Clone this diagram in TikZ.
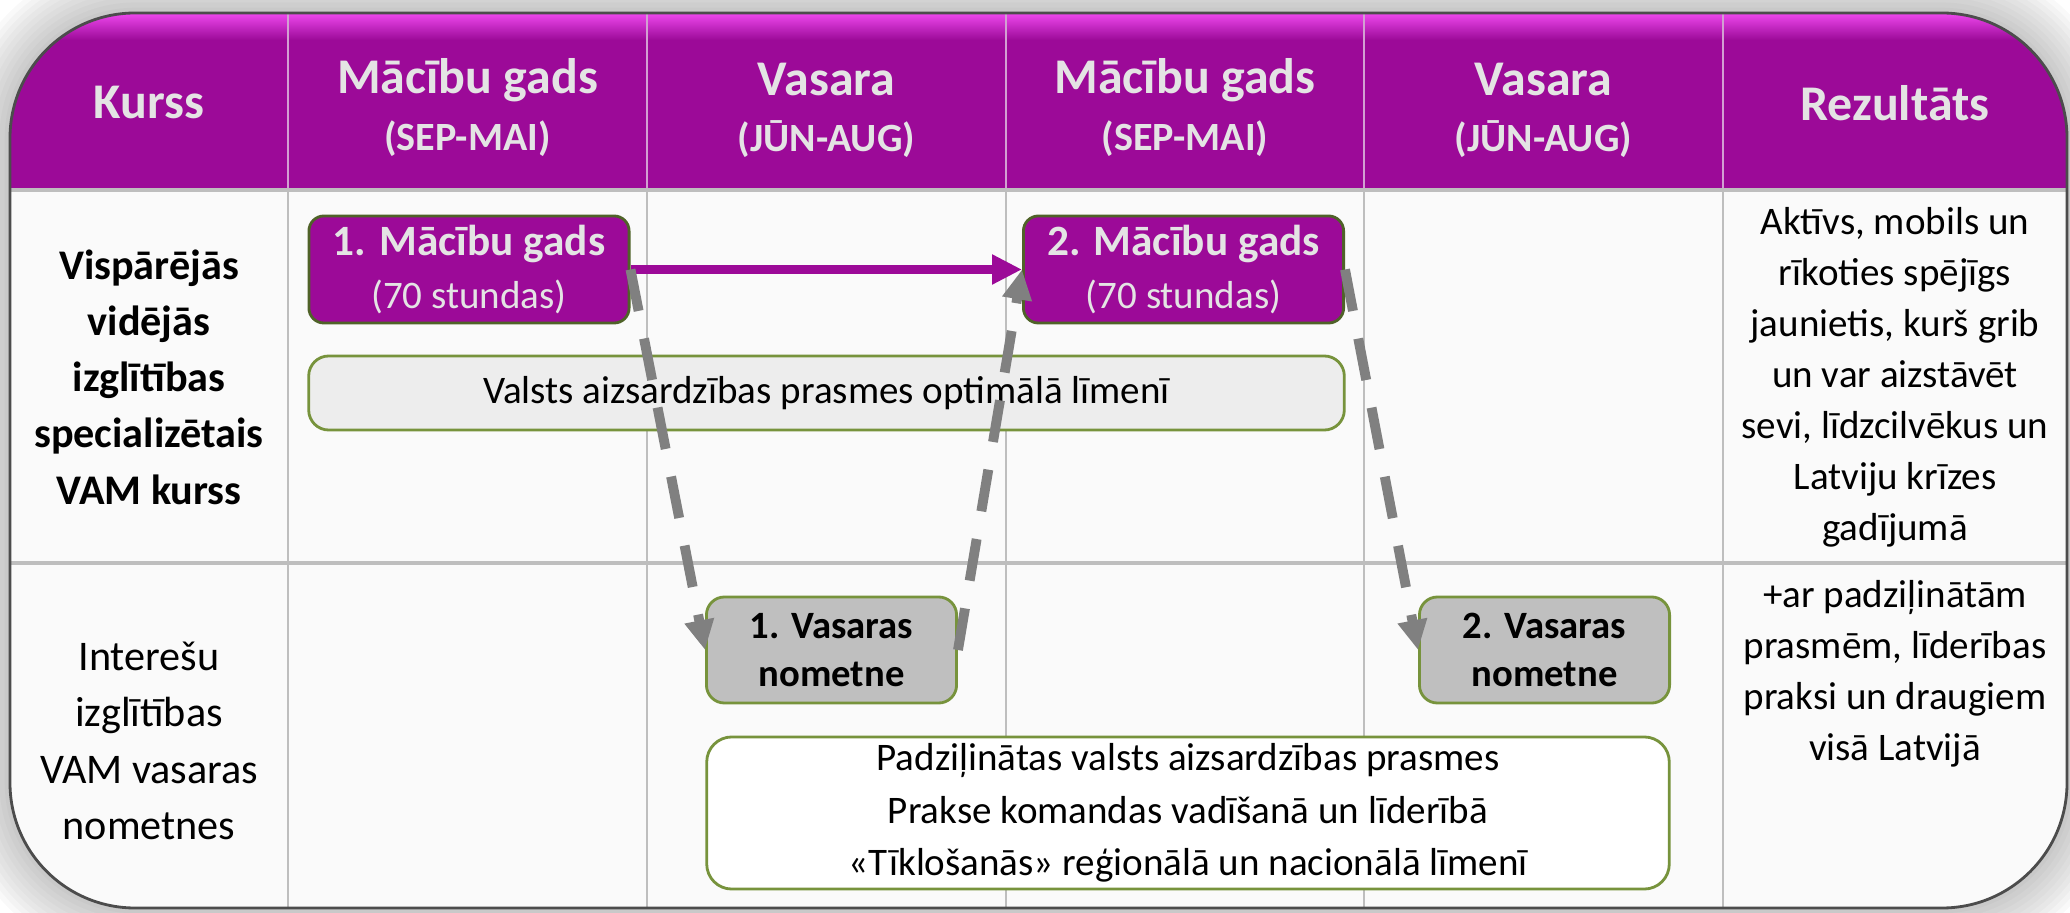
\documentclass[tikz,border=0pt]{standalone}
\usepackage{fontspec}
\setmainfont{Carlito}
\usetikzlibrary{positioning,arrows.meta}

\definecolor{vampurple}{RGB}{156,10,152}
\definecolor{vamtop}{RGB}{238,72,238}
\definecolor{vamhead}{RGB}{228,228,228}
\definecolor{vamolive}{RGB}{79,98,40}
\definecolor{vamgreen}{RGB}{119,147,60}
\definecolor{vamgrid}{RGB}{190,190,190}
\definecolor{vamsep}{RGB}{210,160,210}
\definecolor{vambody}{RGB}{250,250,250}
\definecolor{vamlight}{RGB}{237,237,237}
\definecolor{vamcamp}{RGB}{191,191,191}
\definecolor{vamgray}{RGB}{128,128,128}

\begin{document}
\begin{tikzpicture}[x=0.01cm, y=-0.01cm,
    hd/.style={text=vamhead, font=\fontsize{14.2}{17}\selectfont\bfseries},
    hdsub/.style={text=vamhead, font=\fontsize{11.4}{14}\selectfont\bfseries},
    rowlabel/.style={align=center, font=\fontsize{12}{16}\selectfont},
    txt/.style={align=center, inner sep=0pt, font=\fontsize{11.1}{14.5}\selectfont},
    yearbox/.style={draw=vamolive, fill=vampurple, text=vamhead, line width=0.8pt, rounded corners=0.15cm,
      align=center, inner sep=0pt, minimum width=3.2cm, minimum height=1.07cm, font=\fontsize{11.1}{15}\selectfont},
    campbox/.style={draw=vamgreen, fill=vamcamp, line width=0.8pt, rounded corners=0.18cm,
      align=center, inner sep=0pt, minimum width=2.5cm, minimum height=1.06cm, font=\fontsize{11}{13.6}\selectfont\bfseries},
    skillbox/.style={draw=vamgreen, line width=0.8pt, rounded corners=0.2cm, txt},
    flow/.style={vampurple, line width=2.3pt, -{Triangle[length=8.5pt,width=8pt]}},
    jump/.style={vamgray, line width=2.8pt, dash pattern=on 12pt off 8pt, -{Triangle[length=8.5pt,width=8pt]}}]
  \useasboundingbox (0,0) rectangle (2070,913);

  \foreach \w in {3,6,...,30}
    \draw[black, opacity=0.025, line width=\w pt, rounded corners=1.25cm] (10,13) rectangle (2067,908);
  \begin{scope}
    \clip[rounded corners=1.25cm] (10,13) rectangle (2067,908);
    \fill[vambody] (10,13) rectangle (2067,908);
    \fill[vampurple] (10,13) rectangle (2067,188);
    \shade[top color=vamtop, bottom color=vampurple] (10,13) rectangle (2067,40);
    \foreach \x in {288,647,1006,1364,1723} {
      \draw[vamsep, line width=0.6pt] (\x,13) -- (\x,188);
      \draw[vamgrid, line width=0.8pt] (\x,188) -- (\x,908);
    }
    \draw[vamgrid, line width=1.2pt] (10,190) -- (2067,190)
                                     (10,563) -- (2067,563);
  \end{scope}
  \draw[gray!60!black, line width=0.8pt, rounded corners=1.25cm] (10,13) rectangle (2067,908);

  \node[hd] (kurss) at (149,103) {Kurss};
  \node[hd] (gads1) at (467.5,80) {Mācību gads};
  \node[hdsub] (sep1) at (467.5,139) {(SEP-MAI)};
  \node[hd] (vasara1) at (826.5,80) {Vasara};
  \node[hdsub] (jun1) at (826.5,139) {(JŪN-AUG)};
  \node[hd] (gads2) at (1185,80) {Mācību gads};
  \node[hdsub] (sep2) at (1185,139) {(SEP-MAI)};
  \node[hd] (vasara2) at (1543.5,80) {Vasara};
  \node[hdsub] (jun2) at (1543.5,139) {(JŪN-AUG)};
  \node[hd] (rezultats) at (1895,103) {Rezultāts};

  \node[rowlabel, font=\fontsize{12}{16}\selectfont\bfseries] (course) at (149,377)
    {Vispārējās\\vidējās\\izglītības\\specializētais\\VAM kurss};
  \node[rowlabel] (camps) at (149,741) {Interešu\\izglītības\\VAM vasaras\\nometnes};

  \node[yearbox] (year1) at (469,269.5) {{\bfseries\fontsize{12.3}{15}\selectfont 1. Mācību gads}\\(70 stundas)};
  \node[yearbox] (year2) at (1183.5,269.5) {{\bfseries\fontsize{12.3}{15}\selectfont 2. Mācību gads}\\(70 stundas)};
  \node[skillbox, fill=vamlight, minimum width=10.35cm, minimum height=0.74cm] (skills1) at (826.5,393)
    {Valsts aizsardzības prasmes optimālā līmenī};

  \node[campbox] (camp1) at (831.5,650) {1. Vasaras\\nometne};
  \node[campbox] (camp2) at (1544.5,650) {2. Vasaras\\nometne};
  \node[skillbox, fill=white, minimum width=9.62cm, minimum height=1.52cm, rounded corners=0.25cm,
        font=\fontsize{11.1}{15}\selectfont] (skills2) at (1188,813)
    {Padziļinātas valsts aizsardzības prasmes\\Prakse komandas vadīšanā un līderībā\\«Tīklošanās» reģionālā un nacionālā līmenī};

  \node[txt, anchor=north] (result1) at (1895,207)
    {Aktīvs, mobils un\\rīkoties spējīgs\\jaunietis, kurš grib\\un var aizstāvēt\\sevi, līdzcilvēkus un\\Latviju krīzes\\gadījumā};
  \node[txt, anchor=north] (result2) at (1895,580)
    {+ar padziļinātām\\prasmēm, līderības\\praksi un draugiem\\visā Latvijā};

  \draw[flow] (year1) -- (year2);
  \draw[jump] (year1.east) -- (camp1.west);
  \draw[jump] (camp1.east) -- (year2.west);
  \draw[jump] (year2.east) -- (camp2.west);
\end{tikzpicture}
\end{document}
